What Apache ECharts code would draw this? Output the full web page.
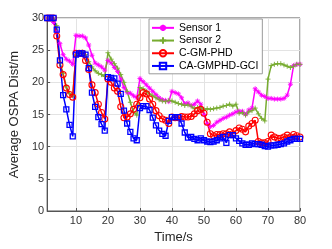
<!DOCTYPE html>
<html>
<head>
<meta charset="utf-8">
<script src="https://cdn.jsdelivr.net/npm/echarts@6/dist/echarts.min.js"></script>
<style>html,body{margin:0;padding:0;background:#fff;}#c{width:332px;height:249px;}</style>
</head>
<body>
<div id="c"></div>
<script>
var time = [1,2,3,4,5,6,7,8,9,10,11,12,13,14,15,16,17,18,19,20,21,22,23,24,25,26,27,28,29,30,31,32,33,34,35,36,37,38,39,40,41,42,43,44,45,46,47,48,49,50,51,52,53,54,55,56,57,58,59,60,61,62,63,64,65,66,67,68,69,70,71,72,73,74,75,76,77,78,79,80];
var sensor1 = [30,30,29.3,27.8,26.0,24.3,23.6,23.3,22.8,27.3,27.2,27.2,26.9,25.8,24.2,23.0,22.7,22.4,21.9,23.4,23.0,22.3,21.7,20.5,19.2,18.4,18.3,17.9,17.6,20.6,20.1,19.6,19.1,18.6,18.1,17.6,17.3,17.2,17.0,18.6,18.4,18.2,17.6,16.7,16.8,16.4,16.6,17.1,16.6,15.0,13.6,13.1,13.3,13.8,14.1,14.4,14.6,14.9,15.1,15.4,15.5,15.5,15.0,15.7,16.0,19.0,18.5,18.0,17.8,17.5,17.5,17.4,17.4,17.4,17.5,18.0,19.7,22.6,22.8,22.8];
var sensor2 = [30,30,29.8,28.8,23.0,21.4,19.3,18.3,17.9,24.3,24.6,24.7,24.3,23.2,22.4,21.8,21.4,21.2,20.9,24.6,23.6,22.9,22.2,21.2,20.0,18.6,16.9,15.4,14.9,19.2,19.0,18.6,18.2,17.9,17.6,17.3,17.1,17.0,17.2,17.1,16.9,16.7,16.6,16.4,16.5,16.3,15.9,16.1,16.1,15.8,15.9,15.8,15.9,16.0,16.1,16.3,16.4,16.6,16.3,16.6,15.2,15.3,14.9,15.4,15.6,16.0,15.1,14.4,14.0,20.5,22.6,22.8,22.9,22.9,22.7,22.5,22.3,22.5,22.8,22.8];
var cgmphd = [30,30,30,27.2,22.7,21.2,19.1,18.1,17.7,24.5,24.5,24.5,23.4,22.0,19.6,18.4,16.6,15.3,14.3,20.5,20.0,19.1,18.6,16.2,14.5,14.6,15.1,15.8,16.6,17.6,18.4,18.2,17.4,16.6,15.6,14.8,14.3,14.1,13.6,14.6,14.5,14.5,14.7,14.6,14.6,14.7,15.1,15.6,15.8,15.2,13.8,12.0,11.7,11.9,11.9,12.0,12.0,12.3,12.0,12.5,12.9,12.7,12.3,13.2,13.6,14.1,10.8,10.6,10.6,10.8,11.8,11.5,11.3,11.3,11.5,11.8,11.5,11.9,11.7,11.5];
var cagmphd = [30,30,30,28.2,23.4,18.0,15.8,13.4,11.6,24.3,24.5,24.5,24.3,22.2,18.4,16.2,14.6,13.5,12.5,20.8,20.7,20.6,19.8,18.2,15.6,13.6,12.3,11.3,11.0,16.0,16.3,16.3,15.7,14.5,13.3,12.5,12.0,11.7,14.0,14.6,14.6,14.6,13.6,12.2,11.4,11.5,11.2,11.0,11.3,11.0,10.8,10.7,10.8,11.0,11.3,11.5,10.6,11.8,11.8,11.3,10.9,10.5,10.3,10.3,10.5,10.4,10.4,10.3,10.1,10.0,10.2,10.2,10.3,10.4,10.5,10.8,11.0,11.2,11.2,11.2];
var xTicks = [10,20,30,40,50,60,70,80];
var yTicks = [0,5,10,15,20,25,30];
var seriesNames = ['Sensor 1','Sensor 2','C-GM-PHD','CA-GMPHD-GCI'];

function pairs(vals){ return time.map(function(t,i){ return [t, vals[i]]; }); }
var FONT = 'Liberation Sans, Arial, Helvetica, sans-serif';
var chart = echarts.init(document.getElementById('c'), null, {renderer:'canvas'});
function mk(name, vals, color, symbol, size, bw){
  return {
    name: name, type: 'line', data: pairs(vals),
    symbol: symbol, symbolSize: size, showAllSymbol: true,
    lineStyle: {color: color, width: 1.5},
    itemStyle: {color: 'rgba(0,0,0,0)', borderColor: color, borderWidth: bw},
    emphasis: {disabled: true}, animation: false
  };
}
var star = 'path://M5,0L5,10M0,5L10,5M1.5,1.5L8.5,8.5M1.5,8.5L8.5,1.5';
var plus = 'path://M5,0L5,10M0,5L10,5';
chart.setOption({
  animation: false,
  textStyle: {fontFamily: FONT},
  grid: {left: 43, top: 18, right: 32, bottom: 33, show: true, borderColor: '#555', borderWidth: 1, backgroundColor: '#fff'},
  legend: {
    orient: 'vertical', left: 149, top: 19,
    padding: [3, 4, 2, 2], itemGap: 1, itemWidth: 22, itemHeight: 8,
    backgroundColor: '#fff', borderColor: '#9a9a9a', borderWidth: 1,
    textStyle: {fontSize: 10.5, color: '#000', fontFamily: FONT, lineHeight: 11.7},
    data: seriesNames
  },
  xAxis: {
    type: 'value', min: 1, max: 80,
    name: 'Time/s', nameLocation: 'middle', nameGap: 20,
    nameTextStyle: {fontSize: 13, color: '#262626', fontFamily: FONT},
    axisLine: {show: true, lineStyle: {color: '#555', width: 1}},
    axisTick: {show: true, inside: true, length: 3, customValues: xTicks, lineStyle: {color: '#555'}},
    axisLabel: {customValues: xTicks, fontSize: 11, color: '#333', margin: 4, fontFamily: FONT},
    splitLine: {show: true, lineStyle: {color: '#e3e3e3', width: 1}}
  },
  yAxis: {
    type: 'value', min: 0, max: 30, interval: 5,
    name: 'Average OSPA Dist/m', nameLocation: 'middle', nameGap: 19,
    nameTextStyle: {fontSize: 13, color: '#262626', fontFamily: FONT},
    axisLine: {show: true, lineStyle: {color: '#555', width: 1}},
    axisTick: {show: true, inside: true, length: 3, lineStyle: {color: '#555'}},
    axisLabel: {fontSize: 11, color: '#333', margin: 3, fontFamily: FONT},
    splitLine: {show: true, lineStyle: {color: '#e3e3e3', width: 1}}
  },
  series: [
    mk(seriesNames[0], sensor1, '#ff00ff', star, 5, 0.9),
    mk(seriesNames[1], sensor2, '#77ac30', plus, 5, 0.9),
    mk(seriesNames[2], cgmphd, '#ff0000', 'circle', 6, 1.1),
    mk(seriesNames[3], cagmphd, '#0000ff', 'rect', 5, 1.3)
  ]
});
</script>
</body>
</html>
